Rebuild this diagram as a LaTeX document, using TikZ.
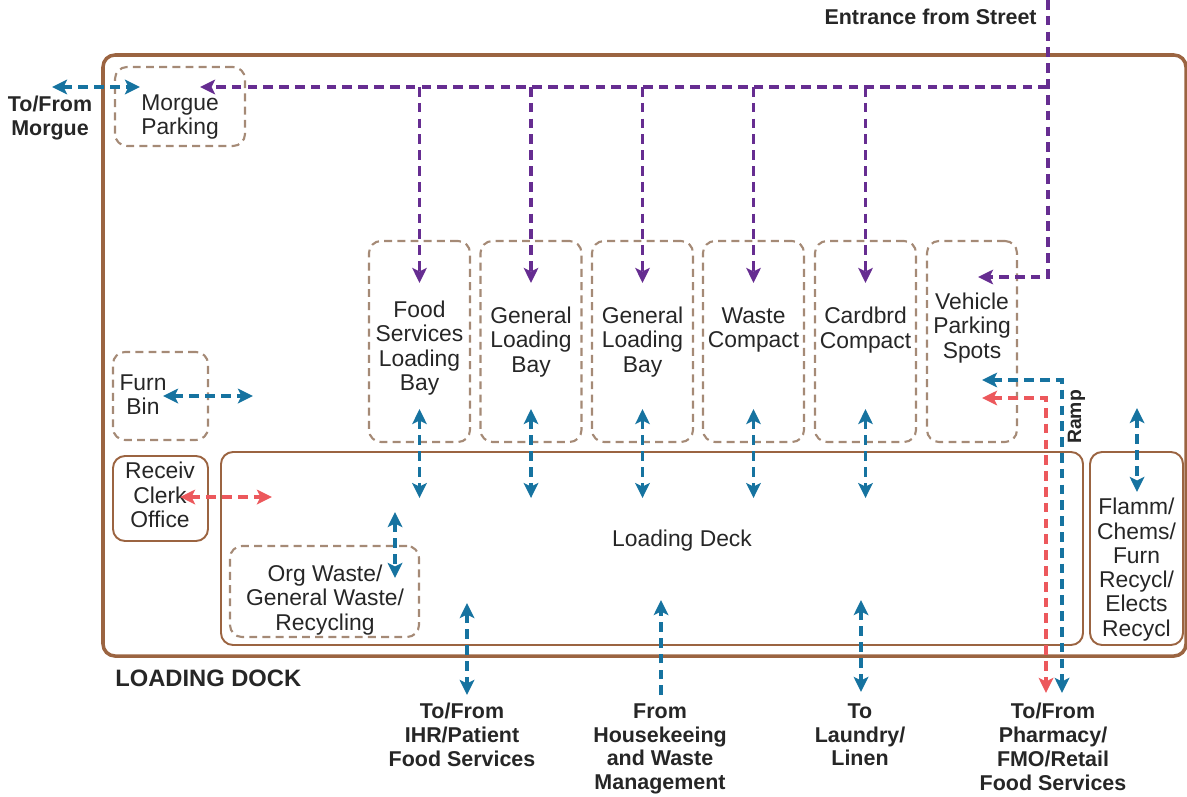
\documentclass[tikz,border=0pt]{standalone}
\usepackage{fontspec}
\setmainfont{Liberation Sans}
\usepackage{xcolor}
\usepackage{tikz}
\usetikzlibrary{arrows.meta, positioning, calc}
\definecolor{DockBrown}{RGB}{155, 100, 65}
\definecolor{DockTan}{RGB}{165, 138, 118}
\definecolor{DockPurple}{RGB}{102, 45, 145}
\definecolor{DockTeal}{RGB}{22, 115, 160}
\definecolor{DockRed}{RGB}{236, 88, 92}
\definecolor{DockText}{RGB}{38, 38, 38}

\tikzset{
  zone/.style={draw=DockTan, line width=1.2pt, dash pattern=on 4.5pt off 3pt, rounded corners=2.4mm},
  room/.style={draw=DockBrown, line width=1.1pt, rounded corners=2.4mm},
  roomtext/.style={align=center, inner sep=0pt, text=DockText, font=\fontsize{13}{13.8}\selectfont},
  exitlabel/.style={align=center, inner sep=0pt, text=DockText, font=\fontsize{12.2}{13.6}\selectfont\bfseries},
  flow/.style={line width=2.2pt, dash pattern=on 5.5pt off 3.5pt},
  truck/.style={flow, DockPurple},
  cart/.style={flow, DockTeal},
  staff/.style={flow, DockRed},
  >={Stealth[length=3mm, width=2.9mm, inset=0.7mm]}
}

\begin{document}
\begin{tikzpicture}
    \path[use as bounding box] (0,0) rectangle (237.4mm,159.2mm);
    % site outline and rooms
    \draw[DockBrown, line width=2pt, rounded corners=2.4mm] (20.6mm,28.0mm) rectangle (237.2mm,148.2mm);
    \node[room, minimum width=172.4mm, minimum height=38.6mm] (deck) at (130.4mm,49.5mm) {};
    \node[roomtext] (decktxt) at (136.4mm,51.0mm) {Loading Deck};
    \node[room, minimum width=19mm, minimum height=17mm] (receiv) at (32.1mm,59.5mm) {};
    \node[roomtext] (receivtxt) at (32.0mm,60.2mm) {Receiv\\Clerk\\Office};
    \node[room, minimum width=18.6mm, minimum height=38.6mm] (flamm) at (227.3mm,49.5mm) {};
    \node[roomtext] (flammtxt) at (227.3mm,45.3mm) {Flamm/\\Chems/\\Furn\\Recycl/\\Elects\\Recycl};

    \node[zone, minimum width=26mm, minimum height=15.8mm] (morgue) at (36.0mm,137.9mm) {};
    \node[roomtext] (morguetxt) at (36.0mm,135.8mm) {Morgue\\Parking};
    \node[zone, minimum width=19mm, minimum height=17.6mm] (furn) at (32.1mm,80.0mm) {};
    \node[roomtext] (furntxt) at (28.6mm,80.2mm) {Furn\\Bin};
    \node[zone, minimum width=37.8mm, minimum height=18.2mm] (orgwaste) at (64.9mm,40.9mm) {};
    \node[roomtext] (orgwastetxt) at (65.0mm,39.2mm) {Org Waste/\\General Waste/\\Recycling};

    % bays along the deck
    \node[zone, minimum width=20.2mm, minimum height=40.2mm] (foodbay) at (83.9mm,90.9mm) {};
    \node[zone, minimum width=20.2mm, minimum height=40.2mm] (genbayA) at (106.2mm,90.9mm) {};
    \node[zone, minimum width=20.2mm, minimum height=40.2mm] (genbayB) at (128.5mm,90.9mm) {};
    \node[zone, minimum width=20.2mm, minimum height=40.2mm] (wastebay) at (150.7mm,90.9mm) {};
    \node[zone, minimum width=20.2mm, minimum height=40.2mm] (cardbay) at (173.1mm,90.9mm) {};
    \node[zone, minimum width=18mm, minimum height=40.2mm] (vehicle) at (194.4mm,90.9mm) {};
    \node[roomtext] (foodtxt) at (83.9mm,89.6mm) {Food\\Services\\Loading\\Bay};
    \node[roomtext] (genAtxt) at (106.2mm,90.8mm) {General\\Loading\\Bay};
    \node[roomtext] (genBtxt) at (128.5mm,90.8mm) {General\\Loading\\Bay};
    \node[roomtext] (wastetxt) at (150.7mm,93.2mm) {Waste\\Compact};
    \node[roomtext] (cardtxt) at (173.1mm,93.2mm) {Cardbrd\\Compact};
    \node[roomtext] (vehicletxt) at (194.4mm,93.6mm) {Vehicle\\Parking\\Spots};

    % street traffic
    \coordinate (street) at (209.6mm,159.2mm);
    \coordinate (streetjoin) at (209.6mm,141.8mm);
    \coordinate (streetturn) at (209.6mm,103.8mm);
    \coordinate (vehtip) at (195.6mm,103.8mm);
    \coordinate (morguetip) at (40.0mm,141.8mm);
    \draw[truck, ->] (street) -- (streetturn) -- (vehtip);
    \draw[truck, ->] (streetjoin) -- (morguetip);
    \foreach \b in {foodbay, genbayA, genbayB, wastebay, cardbay} {
      \draw[truck, ->] (\b.north |- streetjoin) -- ([yshift=-8.6mm]\b.north);
      \draw[cart, <->] ([yshift=6.8mm]\b.south) -- ([yshift=-11mm]\b.south);
    }

    % carts and staff
    \coordinate (morgueout) at (10.4mm,141.8mm);
    \coordinate (morguein) at (28.0mm,141.8mm);
    \draw[cart, <->] (morgueout) -- (morguein);
    \coordinate (furnA) at (32.6mm,80.0mm);
    \coordinate (furnB) at (50.6mm,80.0mm);
    \draw[cart, <->] (furnA) -- (furnB);
    \coordinate (receivA) at (36.0mm,59.8mm);
    \coordinate (receivB) at (54.4mm,59.8mm);
    \draw[staff, <->] (receivA) -- (receivB);
    \coordinate (orgA) at (79.0mm,56.8mm);
    \coordinate (orgB) at (79.0mm,43.6mm);
    \draw[cart, <->] (orgA) -- (orgB);
    \coordinate (flammA) at (227.4mm,77.6mm);
    \coordinate (flammB) at (227.4mm,60.8mm);
    \draw[cart, <->] (flammA) -- (flammB);

    % exits below the dock
    \coordinate (ihrA) at (93.4mm,38.6mm);
    \coordinate (ihrB) at (93.4mm,20.2mm);
    \draw[cart, <->] (ihrA) -- (ihrB);
    \coordinate (houseA) at (132.2mm,39.2mm);
    \coordinate (houseB) at (132.2mm,20.2mm);
    \draw[cart, ->] (houseB) -- (houseA);
    \coordinate (laundryA) at (172.2mm,39.2mm);
    \coordinate (laundryB) at (172.2mm,20.8mm);
    \draw[cart, <->] (laundryA) -- (laundryB);
    \coordinate (rampteal) at (196.4mm,83.2mm);
    \coordinate (ramptealout) at (212.4mm,20.6mm);
    \draw[cart, <->] (rampteal) -| (ramptealout);
    \coordinate (rampred) at (196.4mm,79.6mm);
    \coordinate (rampredout) at (209.2mm,20.6mm);
    \draw[staff, <->] (rampred) -| (rampredout);

    % labels
    \node[exitlabel, anchor=east] (streetlbl) at (207.4mm,155.8mm) {Entrance from Street};
    \node[exitlabel] (morguelbl) at (10.0mm,135.6mm) {To/From\\Morgue};
    \node[exitlabel, font=\fontsize{11}{12}\selectfont\bfseries, rotate=90] (ramplbl) at (215.3mm,75.8mm) {Ramp};
    \node[exitlabel, anchor=west, font=\fontsize{13.5}{15}\selectfont\bfseries] (docklbl) at (23.0mm,23.6mm) {LOADING DOCK};
    \node[exitlabel, anchor=north] (ihrlbl) at (92.4mm,18.6mm) {To/From\\IHR/Patient\\Food Services};
    \node[exitlabel, anchor=north] (houselbl) at (132.0mm,18.6mm) {From\\Housekeeing\\and Waste\\Management};
    \node[exitlabel, anchor=north] (laundrylbl) at (172.0mm,18.6mm) {To\\Laundry/\\Linen};
    \node[exitlabel, anchor=north] (pharmlbl) at (210.6mm,18.6mm) {To/From\\Pharmacy/\\FMO/Retail\\Food Services};
  \end{tikzpicture}
\end{document}
